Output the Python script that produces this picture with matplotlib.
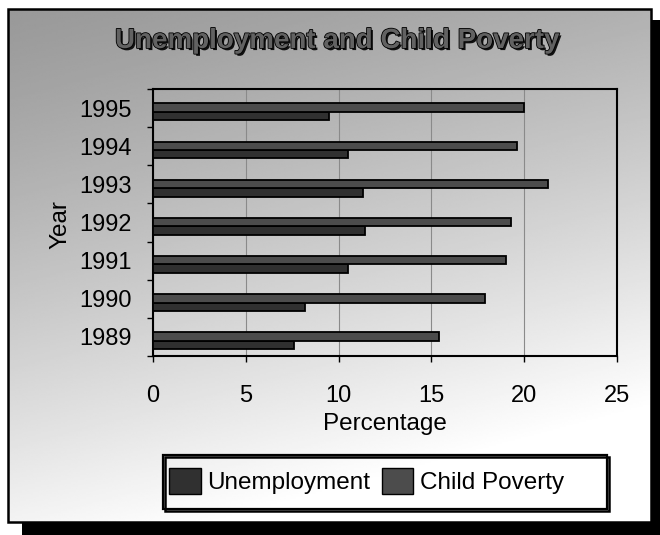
import numpy as np
import matplotlib
matplotlib.use("Agg")
import matplotlib.pyplot as plt
import matplotlib.patheffects as pe
from matplotlib.patches import Rectangle, Patch
from matplotlib.ticker import FixedLocator

plt.rcParams['font.family'] = ['Liberation Sans', 'DejaVu Sans']

years = ["1989", "1990", "1991", "1992", "1993", "1994", "1995"]
unemployment = [7.6, 8.2, 10.5, 11.4, 11.3, 10.5, 9.5]
child_poverty = [15.4, 17.9, 19.0, 19.3, 21.3, 19.6, 20.0]
x_ticks = [0, 5, 10, 15, 20, 25]

UNEMP_COLOR = "#303030"
POV_COLOR = "#4c4c4c"

W, H = 660, 535
fig = plt.figure(figsize=(W / 100, H / 100), dpi=100)
fig.patch.set_facecolor("white")

# --- background panel in pixel coordinates ---
bg = fig.add_axes([0, 0, 1, 1], zorder=0)
bg.set_xlim(0, W)
bg.set_ylim(H, 0)
bg.axis("off")

# drop shadow behind the panel
bg.add_patch(Rectangle((22, 20), 660, 540, facecolor="black", edgecolor="none"))

# diagonal gray gradient, dark at top-left, fading to white at bottom-right
x0, y0, x1, y1 = 8, 9, 651, 522
gx = np.linspace(0, 1, 300)
gy = np.linspace(0, 1, 300)
XX, YY = np.meshgrid(gx, gy)
t = np.clip(0.3 * XX + 0.9 * YY, 0, 1) ** 1.2
shade = 0.60 + 0.40 * t
bg.imshow(shade, cmap="gray", vmin=0, vmax=1, extent=(x0, x1, y1, y0),
          aspect="auto", interpolation="bilinear", zorder=1)
bg.add_patch(Rectangle((x0, y0), x1 - x0, y1 - y0, facecolor="none",
                       edgecolor="black", linewidth=1.8, zorder=2))

# legend box with a slight shadow
lx0, ly0, lx1, ly1 = 163, 455, 607, 509
bg.add_patch(Rectangle((lx0 + 1.5, ly0 + 1.5), lx1 - lx0, ly1 - ly0,
                       facecolor="none", edgecolor="black", linewidth=1.8, zorder=2))
bg.add_patch(Rectangle((lx0, ly0), lx1 - lx0, ly1 - ly0,
                       facecolor="none", edgecolor="black", linewidth=1.6, zorder=3))

# --- main chart ---
left, right, top, bottom = 153, 617, 89, 356
ax = fig.add_axes([left / W, 1 - bottom / H, (right - left) / W, (bottom - top) / H], zorder=1)
ax.set_facecolor("none")

pos = np.arange(len(years))
bar_h = 0.22
shift = -0.10
ax.barh(pos + shift - bar_h / 2, unemployment, height=bar_h, color=UNEMP_COLOR,
        edgecolor="black", linewidth=1.3, label="Unemployment", zorder=3)
ax.barh(pos + shift + bar_h / 2, child_poverty, height=bar_h, color=POV_COLOR,
        edgecolor="black", linewidth=1.3, label="Child Poverty", zorder=3)

ax.set_xlim(0, 25)
ax.set_ylim(-0.5, len(years) - 0.5)
ax.set_xticks(x_ticks)
ax.set_xticklabels([str(v) for v in x_ticks], fontsize=17)
ax.set_yticks(pos)
ax.set_yticklabels(years, fontsize=17)
ax.yaxis.set_minor_locator(FixedLocator(np.arange(-0.5, len(years), 1.0)))
ax.tick_params(axis="y", which="major", length=0, pad=15)
ax.tick_params(axis="y", which="minor", length=4, width=1, direction="out")
ax.tick_params(axis="x", which="major", length=4, width=1, direction="out", pad=17)
ax.grid(axis="x", color="#8a8a8a", linewidth=0.8, zorder=0)
for s in ax.spines.values():
    s.set_color("black")
    s.set_linewidth(1.5)

fig.text(385 / W, 1 - 424 / H, "Percentage", ha="center", va="center", fontsize=17.5)
fig.text(60 / W, 1 - 225 / H, "Year", ha="center", va="center", rotation=90, fontsize=17.5)

title = fig.text(337 / W, 1 - 41 / H, "Unemployment and Child Poverty", ha="center",
                 va="center", fontsize=20, fontweight="bold", color="#626262")
title.set_path_effects([pe.withSimplePatchShadow(offset=(1.5, -1.5), shadow_rgbFace="black", alpha=0.9),
                        pe.withStroke(linewidth=1.2, foreground="black")])

handles = [Patch(facecolor=UNEMP_COLOR, edgecolor="black", linewidth=1.0),
           Patch(facecolor=POV_COLOR, edgecolor="black", linewidth=1.0)]
fig.legend(handles, ["Unemployment", "Child Poverty"], loc="center left",
           bbox_to_anchor=(169 / W, 1 - 481 / H), ncol=2, frameon=False,
           fontsize=17.5, handlelength=1.3, handleheight=1.3, handletextpad=0.25,
           columnspacing=0.5, borderpad=0, borderaxespad=0)

fig.savefig("out.png", dpi=100)
